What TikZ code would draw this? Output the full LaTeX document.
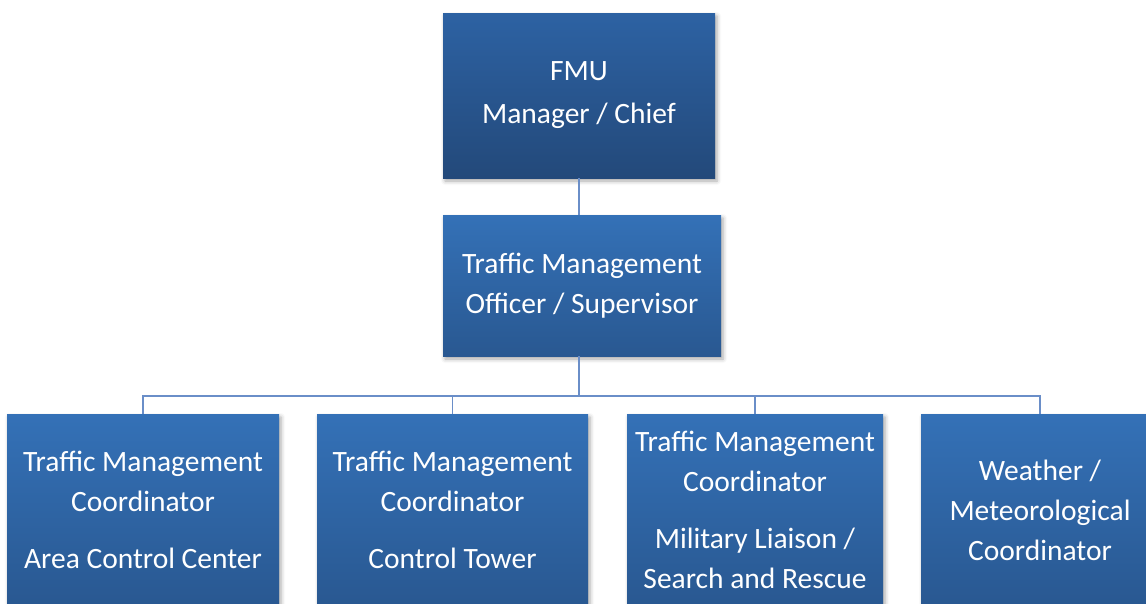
\documentclass[tikz,border=0pt]{standalone}
\usepackage{fontspec}
\setmainfont{Carlito}
\usetikzlibrary{shadows.blur}
\definecolor{linkblue}{HTML}{6A8EC8}
\definecolor{topA}{HTML}{2D62A3}
\definecolor{topB}{HTML}{23497A}
\definecolor{lowA}{HTML}{3471B7}
\definecolor{lowB}{HTML}{295891}
\begin{document}
\begin{tikzpicture}[x=1pt,y=-1pt,
  orgbox/.style={rectangle, inner sep=0pt, align=center, text=white,
    font=\fontsize{29.5}{40}\selectfont,
    top color=lowA, bottom color=lowB,
    blur shadow={shadow xshift=2pt, shadow yshift=-3pt,
      shadow blur radius=4pt, shadow opacity=35}},
  link/.style={draw=linkblue, line width=1.6pt}]
\useasboundingbox (0,0) rectangle (1146,603);

% head of unit
\node[orgbox, top color=topA, bottom color=topB,
  font=\fontsize{29.5}{43}\selectfont,
  minimum width=272pt, minimum height=165pt] (fmu) at (579,95.5)
  {FMU\\Manager / Chief};

% officer level
\node[orgbox, minimum width=278pt, minimum height=141pt] (tmo) at (582,285.5)
  {Traffic Management\\Officer / Supervisor};

% coordinators
\node[orgbox, minimum width=272pt, minimum height=192pt] (cA) at (143,510)
  {Traffic Management\\Coordinator\\[17pt]Area Control Center};
\node[orgbox, minimum width=271pt, minimum height=192pt] (cB) at (452.5,510)
  {Traffic Management\\Coordinator\\[17pt]Control Tower};
\node[orgbox, minimum width=256pt, minimum height=192pt] (cC) at (755,510)
  {Traffic Management\\Coordinator\\[17pt]Military Liaison /\\Search and Rescue};
\node[orgbox, minimum width=238pt, minimum height=192pt] (cD) at (1040,510)
  {Weather /\\Meteorological\\Coordinator};

% connectors
\coordinate (bus) at (579,396);
\draw[link] (fmu.south) -- (fmu.south |- tmo.north);
\draw[link] (fmu.south |- tmo.south) -- (bus);
\draw[link] (cA.north) -- (cA.north |- bus) -- (cD.north |- bus) -- (cD.north);
\draw[link] (cB.north) -- (cB.north |- bus);
\draw[link] (cC.north) -- (cC.north |- bus);
\end{tikzpicture}
\end{document}
